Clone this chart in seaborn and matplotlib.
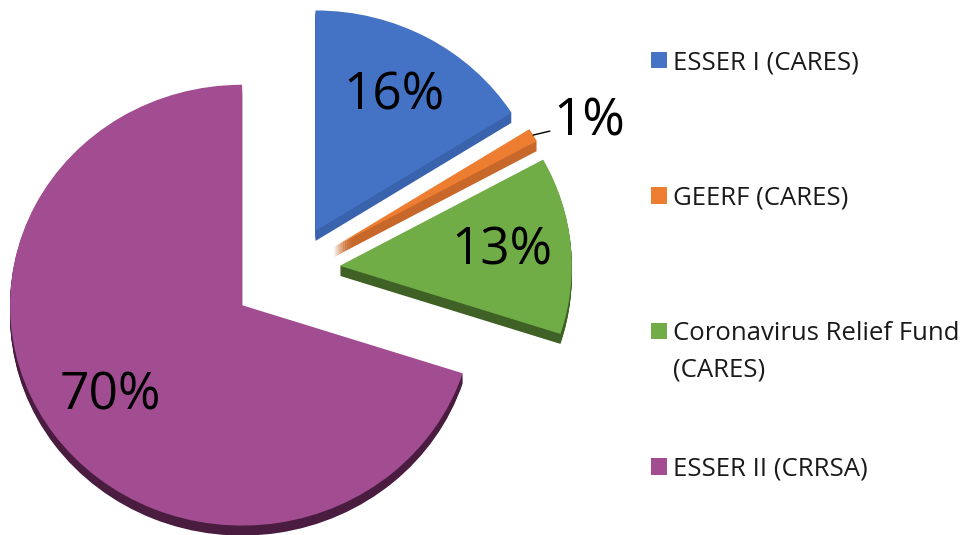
import matplotlib
matplotlib.use("Agg")
import matplotlib.pyplot as plt
import seaborn as sns
import numpy as np
from matplotlib.patches import Patch
from matplotlib.transforms import IdentityTransform

# data
categories = ["ESSER I (CARES)", "GEERF (CARES)", "Coronavirus Relief Fund", "ESSER II (CRRSA)"]
wrap_line = "(CARES)"          # second line of the third legend entry
shares = [16, 1, 13, 70]
explode_px = [47, 47, 47, 63]

top_colors = ["#4472C4", "#ED7D31", "#70AD47", "#A24C92"]
side_colors = ["#3A63AD", "#C7672A", "#3F6126", "#4A1D40"]

sns.set_theme(style="white")
plt.rcParams["font.family"] = ["Open Sans", "DejaVu Sans"]

fig = plt.figure(figsize=(9.69, 5.35), dpi=100)
ax = fig.add_axes([0, 0, 1, 1])

squash = 0.95           # pie is a little flattened (tilted 3D look)
cx, cy = 293, (535 - 270) / squash
R = 232
depth = 10

# extruded side of the 3D pie: stacked darker copies shifted downward
for k in range(depth, 0, -1):
    ax.pie(shares, explode=explode_px, colors=side_colors, startangle=90,
           counterclock=False, radius=R, center=(cx, cy - k / squash),
           frame=True, wedgeprops=dict(linewidth=0))

# top face
wedges, texts, autotexts = ax.pie(
    shares, explode=explode_px, colors=top_colors, startangle=90,
    counterclock=False, radius=R, center=(cx, cy), frame=True,
    autopct=lambda p: f"{p:.0f}%" if p >= 5 else "", pctdistance=0.7,
    wedgeprops=dict(linewidth=0),
    textprops=dict(fontsize=37, color="black"))

# small slice: label outside with a leader line
w = wedges[1]
tm = np.deg2rad((w.theta1 + w.theta2) / 2)
tip = (w.center[0] + R * np.cos(tm), w.center[1] + R * np.sin(tm))
ax.annotate(f"{shares[1]}%", xy=tip, xytext=(tip[0] + 20, tip[1] + 14),
            ha="left", va="center", fontsize=37, color="black",
            arrowprops=dict(arrowstyle="-", color="black", lw=1,
                            shrinkA=0, shrinkB=0))

ax.set_aspect("auto")
ax.set_xlim(0, 969)
ax.set_ylim(0, 535 / squash)
ax.axis("off")

fs = 18.5
handles = [Patch(facecolor=c, edgecolor="none") for c in top_colors]
leg = fig.legend(handles, categories, loc="upper left",
                 bbox_to_anchor=(651 / 969, 1 - 50 / 535), frameon=False,
                 fontsize=fs, handlelength=0.62, handleheight=0.62,
                 handletextpad=0.25, labelspacing=4.3, borderpad=0,
                 borderaxespad=0, labelcolor="#1a1a1a")

fig.canvas.draw()
bb = leg.get_texts()[2].get_window_extent()
fig.text(bb.x0, bb.y1 - 37, wrap_line, va="top", ha="left", fontsize=fs,
         color="#1a1a1a", transform=IdentityTransform())

fig.savefig("out.png", dpi=100, facecolor="white")
